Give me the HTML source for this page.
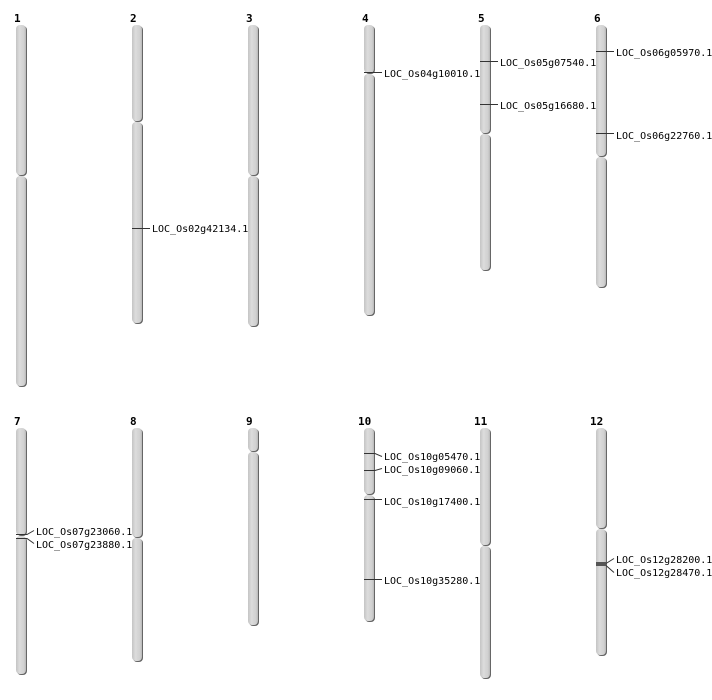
<!DOCTYPE html>
<html><head><meta charset="utf-8"><style>
html,body{margin:0;padding:0;background:#fff;width:712px;height:700px;overflow:hidden}
text{font-family:"DejaVu Sans Mono","Liberation Mono",monospace;font-size:10px;fill:#000}
.n{font-weight:bold;font-size:11px}
</style></head><body>
<svg width="712" height="700" viewBox="0 0 712 700" xmlns="http://www.w3.org/2000/svg">
<defs>
<linearGradient id="g" x1="0" x2="1" y1="0" y2="0">
<stop offset="0" stop-color="#c4c4c4"/><stop offset="0.35" stop-color="#dcdcdc"/><stop offset="0.8" stop-color="#d0d0d0"/><stop offset="1" stop-color="#b8b8b8"/>
</linearGradient>
</defs>
<g id="chroms">
<!-- chr1 -->
<rect x="17" y="26" width="10" height="150" rx="4" fill="#666"/><rect x="16" y="25" width="10" height="150" rx="4" fill="url(#g)"/>
<rect x="17" y="177" width="10" height="210" rx="4" fill="#666"/><rect x="16" y="176" width="10" height="210" rx="4" fill="url(#g)"/>
<!-- chr2 -->
<rect x="133" y="26" width="10" height="96" rx="4" fill="#666"/><rect x="132" y="25" width="10" height="96" rx="4" fill="url(#g)"/>
<rect x="133" y="123" width="10" height="201" rx="4" fill="#666"/><rect x="132" y="122" width="10" height="201" rx="4" fill="url(#g)"/>
<!-- chr3 -->
<rect x="249" y="26" width="10" height="150" rx="4" fill="#666"/><rect x="248" y="25" width="10" height="150" rx="4" fill="url(#g)"/>
<rect x="249" y="177" width="10" height="150" rx="4" fill="#666"/><rect x="248" y="176" width="10" height="150" rx="4" fill="url(#g)"/>
<!-- chr4 -->
<rect x="365" y="26" width="10" height="48" rx="4" fill="#666"/><rect x="364" y="25" width="10" height="48" rx="4" fill="url(#g)"/>
<rect x="365" y="75" width="10" height="241" rx="4" fill="#666"/><rect x="364" y="74" width="10" height="241" rx="4" fill="url(#g)"/>
<!-- chr5 -->
<rect x="481" y="26" width="10" height="108" rx="4" fill="#666"/><rect x="480" y="25" width="10" height="108" rx="4" fill="url(#g)"/>
<rect x="481" y="135" width="10" height="136" rx="4" fill="#666"/><rect x="480" y="134" width="10" height="136" rx="4" fill="url(#g)"/>
<!-- chr6 -->
<rect x="597" y="26" width="10" height="131" rx="4" fill="#666"/><rect x="596" y="25" width="10" height="131" rx="4" fill="url(#g)"/>
<rect x="597" y="158" width="10" height="130" rx="4" fill="#666"/><rect x="596" y="157" width="10" height="130" rx="4" fill="url(#g)"/>
<!-- chr7 -->
<rect x="17" y="429" width="10" height="107" rx="4" fill="#666"/><rect x="16" y="428" width="10" height="107" rx="4" fill="url(#g)"/>
<rect x="17" y="537" width="10" height="138" rx="4" fill="#666"/><rect x="16" y="536" width="10" height="138" rx="4" fill="url(#g)"/>
<!-- chr8 -->
<rect x="133" y="429" width="10" height="109" rx="4" fill="#666"/><rect x="132" y="428" width="10" height="109" rx="4" fill="url(#g)"/>
<rect x="133" y="539" width="10" height="123" rx="4" fill="#666"/><rect x="132" y="538" width="10" height="123" rx="4" fill="url(#g)"/>
<!-- chr9 -->
<rect x="249" y="429" width="10" height="23" rx="4" fill="#666"/><rect x="248" y="428" width="10" height="23" rx="4" fill="url(#g)"/>
<rect x="249" y="453" width="10" height="173" rx="4" fill="#666"/><rect x="248" y="452" width="10" height="173" rx="4" fill="url(#g)"/>
<!-- chr10 -->
<rect x="365" y="429" width="10" height="66" rx="4" fill="#666"/><rect x="364" y="428" width="10" height="66" rx="4" fill="url(#g)"/>
<rect x="365" y="496" width="10" height="126" rx="4" fill="#666"/><rect x="364" y="495" width="10" height="126" rx="4" fill="url(#g)"/>
<!-- chr11 -->
<rect x="481" y="429" width="10" height="117" rx="4" fill="#666"/><rect x="480" y="428" width="10" height="117" rx="4" fill="url(#g)"/>
<rect x="481" y="547" width="10" height="132" rx="4" fill="#666"/><rect x="480" y="546" width="10" height="132" rx="4" fill="url(#g)"/>
<!-- chr12 -->
<rect x="597" y="429" width="10" height="100" rx="4" fill="#666"/><rect x="596" y="428" width="10" height="100" rx="4" fill="url(#g)"/>
<rect x="597" y="530" width="10" height="126" rx="4" fill="#666"/><rect x="596" y="529" width="10" height="126" rx="4" fill="url(#g)"/>
</g>
<g fill="none" stroke="#333" stroke-width="1">
<path d="M132 228.5H150"/>
<path d="M364 72.5H382"/>
<path d="M480 61.5H498"/><path d="M480 104.5H498"/>
<path d="M596 51.5H614"/><path d="M596 133.5H614"/>
<path d="M16 534.5H27L34 530.5"/><path d="M16 538.5H27L34 543.5"/>
<path d="M364 453.5H375L382 456.5"/><path d="M364 470.5H375L382 468.5"/>
<path d="M364 499.5H382"/><path d="M364 579.5H382"/>
<path d="M606 563.5L614 558.5"/><path d="M606 565.5L614 572.5"/>
</g>
<rect x="596" y="562" width="10" height="4" fill="#555"/>
<g>
<text class="n" x="14" y="22">1</text><text class="n" x="130" y="22">2</text><text class="n" x="246" y="22">3</text>
<text class="n" x="362" y="22">4</text><text class="n" x="478" y="22">5</text><text class="n" x="594" y="22">6</text>
<text class="n" x="14" y="425">7</text><text class="n" x="130" y="425">8</text><text class="n" x="246" y="425">9</text>
<text class="n" x="358" y="425">10</text><text class="n" x="474" y="425">11</text><text class="n" x="590" y="425">12</text>
</g>
<g>
<text x="152" y="232">LOC_Os02g42134.1</text>
<text x="384" y="77">LOC_Os04g10010.1</text>
<text x="500" y="66">LOC_Os05g07540.1</text>
<text x="500" y="109">LOC_Os05g16680.1</text>
<text x="616" y="56">LOC_Os06g05970.1</text>
<text x="616" y="139">LOC_Os06g22760.1</text>
<text x="36" y="535">LOC_Os07g23060.1</text>
<text x="36" y="548">LOC_Os07g23880.1</text>
<text x="384" y="460">LOC_Os10g05470.1</text>
<text x="384" y="473">LOC_Os10g09060.1</text>
<text x="384" y="505">LOC_Os10g17400.1</text>
<text x="384" y="584">LOC_Os10g35280.1</text>
<text x="616" y="563">LOC_Os12g28200.1</text>
<text x="616" y="576">LOC_Os12g28470.1</text>
</g>
</svg>
</body></html>
